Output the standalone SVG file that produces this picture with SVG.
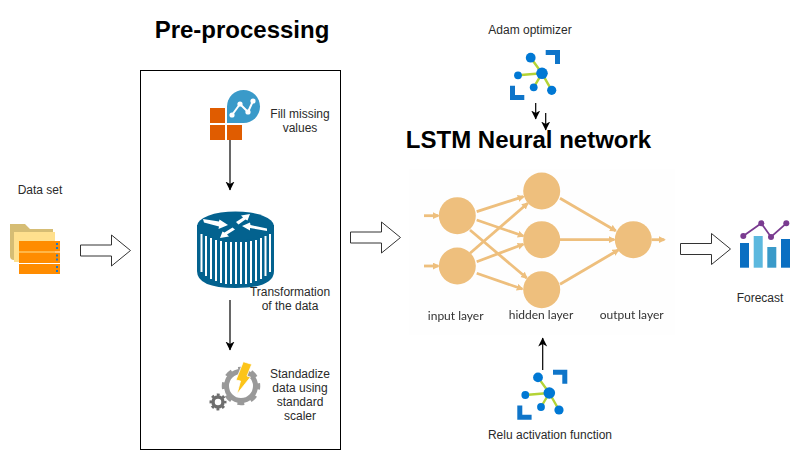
<svg xmlns="http://www.w3.org/2000/svg" width="791" height="452" viewBox="0 0 791 452">
<style>
text{font-family:"Liberation Sans",Arial,sans-serif;fill:#2a2a2a;text-anchor:middle}
.l{font-size:12px}
.t{font-size:24px;font-weight:bold;fill:#000}
.n{font-family:Lato,"Open Sans",sans-serif;font-size:12px;fill:#333}
.block{fill:#fff;stroke:#333;stroke-width:1}
.wire{fill:none;stroke:#000;stroke-width:1.2;marker-end:url(#ah)}
.nn{fill:#eebf7d}
.nl{fill:none;stroke:#eebf7d;stroke-width:2.8;marker-end:url(#oh)}
</style>
<defs>
<marker id="ah" markerUnits="userSpaceOnUse" markerWidth="10" markerHeight="10" refX="8.5" refY="4.500" orient="auto"><path d="M0 0L9 4.500L0 9L2.500 4.500Z" fill="#000"/></marker>
<marker id="oh" markerUnits="userSpaceOnUse" markerWidth="9" markerHeight="9" refX="5.500" refY="3.500" orient="auto"><path d="M0 0L7 3.500L0 7Z" fill="#eebf7d"/></marker>
<filter id="soft" x="-5%" y="-5%" width="110%" height="110%"><feGaussianBlur stdDeviation="0.4"/></filter>
<g id="net">
<path d="M542 73.300L530.700 57.700M542 73.300L518 75.300M542 73.300L533.700 87.300M542 73.300L551.700 90.300" stroke="#b4d335" stroke-width="2.400" fill="none"/>
<g fill="#0078d4"><circle cx="542" cy="73.300" r="5.800"/><circle cx="530.700" cy="57.700" r="4.900"/><circle cx="518" cy="75.300" r="3.900"/><circle cx="533.700" cy="87.300" r="3.900"/><circle cx="551.700" cy="90.300" r="4.600"/></g>
<path d="M545.700 50H560V64H555V55H545.700Z M510 85.700H515V95H524.300V100H510Z" fill="#0f75c9"/>
</g>
<path id="bk" d="M0 -5.500H31V-15.500L50 0L31 15.500V5.500H0Z"/>
</defs>

<g id="connectors">
<line class="wire" x1="230" y1="140" x2="230" y2="190"/>
<line class="wire" x1="230" y1="300" x2="230" y2="350"/>
<line class="wire" x1="535.700" y1="103" x2="535.700" y2="119"/>
<line class="wire" x1="545.700" y1="113" x2="545.700" y2="130"/>
<line class="wire" x1="542.700" y1="370" x2="542.700" y2="338"/>
<use href="#bk" class="block" transform="translate(80.500 250.500)"/>
<use href="#bk" class="block" transform="translate(350.500 237.500)"/>
<use href="#bk" class="block" transform="translate(680.500 249)"/>
</g>

<g id="dataset">
<path d="M10 224H25L30 229H53V260H14Q10 260 10 256Z" fill="#d6bd74"/>
<path d="M14 232H55V262H14Z" fill="#ffe08e"/>
<g fill="#ff8c00"><rect x="19" y="241" width="41" height="10.500"/><rect x="19" y="252.500" width="41" height="10.500"/><rect x="19" y="264" width="41" height="10"/></g>
<g fill="#1a78c8"><rect x="56" y="243" width="2" height="2"/><rect x="56" y="247" width="2" height="2"/><rect x="56" y="254.500" width="2" height="2"/><rect x="56" y="258.500" width="2" height="2"/><rect x="56" y="266" width="2" height="2"/><rect x="56" y="270" width="2" height="2"/></g>
<text class="l" x="40" y="194">Data set</text>
</g>

<g id="preprocessing">
<rect x="140.500" y="70.500" width="200" height="379" fill="none" stroke="#000" stroke-width="1"/>
<text class="t" x="242" y="38">Pre-processing</text>
</g>

<g id="fill-missing">
<g fill="#e05c00"><rect x="210" y="108" width="15" height="15"/><rect x="227" y="125" width="15" height="15"/><rect x="210" y="125" width="15" height="15"/></g>
<path d="M227 106.500A16.500 16.500 0 1 1 243.500 123H227Z" fill="#3a9ac9"/>
<path d="M232 115L240 104L248 112L253 101" fill="none" stroke="#fff" stroke-width="2"/>
<g fill="#fff"><circle cx="232" cy="115" r="2.600"/><circle cx="240" cy="104" r="2.600"/><circle cx="248" cy="112" r="2.600"/><circle cx="253" cy="101" r="2.600"/></g>
<text class="l" x="300" y="118">Fill missing</text>
<text class="l" x="300" y="132">values</text>
</g>

<g id="transformation">
<path d="M197 225V271Q197 288 235.500 288T274 271V225Z" fill="#03628f"/>
<path d="M201.500 234V272M206 236V276M211 238V279M216 240V281M221 241V283M226 242V284M231 242V284M236 242V284M241 242V284M246 242V284M251 241V283M256 240V281M261 238V279M265.500 236V276M270 234V272" stroke="#fff" stroke-width="2" fill="none"/>
<ellipse cx="235.500" cy="226" rx="38.500" ry="14.500" fill="#03628f"/>
<path d="M203 219L219 221.500L219.500 219.500L228 225L218.500 229L219 226.500L204 222.500Z M236 222L243 217.500L241 215.500L250 214L247.500 220.500L245.500 219.500L238.500 224.500Z M267 231L250 228L250 230.500L242 226L250 222.500L250.500 225L267 228.500Z M235 229.500L227 234.500L229 236.500L220 238L222.500 231.500L224.500 232.500L232.500 227.500Z" fill="#fff"/>
<text class="l" x="290" y="295.500">Transformation</text>
<text class="l" x="290" y="309.500">of the data</text>
</g>

<g id="standardize">
<circle cx="241" cy="386" r="14.500" fill="none" stroke="#999" stroke-width="5"/>
<circle cx="241" cy="386" r="17" fill="none" stroke="#999" stroke-width="4.500" stroke-dasharray="6.700 6.650" stroke-dashoffset="3.350"/>
<circle cx="218" cy="402" r="5" fill="none" stroke="#6e6e6e" stroke-width="3.500"/>
<circle cx="218" cy="402" r="7" fill="none" stroke="#6e6e6e" stroke-width="3" stroke-dasharray="2.750 2.750" stroke-dashoffset="1.375"/>
<path d="M243.300 361.700L251.700 364.300L247 376L250.500 377L237 394L240.500 381L236 380Z" fill="#fcc419" stroke="#fff" stroke-width="0.800"/>
<text class="l" x="300" y="378">Standadize</text>
<text class="l" x="300" y="392">data using</text>
<text class="l" x="300" y="406">standard</text>
<text class="l" x="300" y="420">scaler</text>
</g>

<g id="adam">
<use href="#net"/>
<text class="l" x="530" y="34">Adam optimizer</text>
</g>

<g id="lstm">
<rect x="409" y="169" width="266" height="166" fill="#fefefe"/>
<text class="t" x="528.500" y="148">LSTM Neural network</text>
<g filter="url(#soft)">
<path class="nl" d="M424 215.700H438.300"/>
<path class="nl" d="M424 266H438.300"/>
<path class="nl" d="M476.700 211.700L523.300 196.700"/>
<path class="nl" d="M476.700 220L523.300 236"/>
<path class="nl" d="M470 230L526.700 278"/>
<path class="nl" d="M470 253.300L527.700 203.300"/>
<path class="nl" d="M476.700 261.700L523.300 244.300"/>
<path class="nl" d="M476.700 273.300L522.300 289"/>
<path class="nl" d="M560 198.300L615.700 230.700"/>
<path class="nl" d="M560 239.700H614.300"/>
<path class="nl" d="M560 284.300L618.300 250"/>
<path class="nl" d="M651.700 239.700H664.300"/>
<g class="nn"><circle cx="457.300" cy="215.700" r="18.500"/><circle cx="457.300" cy="266" r="18.500"/><circle cx="541.700" cy="191" r="18.500"/><circle cx="541.700" cy="239.700" r="18.500"/><circle cx="541.700" cy="289.700" r="18.500"/><circle cx="633.300" cy="239.700" r="18.500"/></g>
<text class="n" x="455.700" y="319.500">input layer</text>
<text class="n" x="541" y="319">hidden layer</text>
<text class="n" x="631.700" y="319">output layer</text>
</g>
</g>

<g id="relu">
<use href="#net" transform="translate(7.300 319.700)"/>
<text class="l" x="550" y="439">Relu activation function</text>
</g>

<g id="forecast">
<rect x="740" y="243" width="9" height="24.700" fill="#0a6fc2"/>
<rect x="753.700" y="236" width="9" height="31.700" fill="#5cb8de"/>
<rect x="767.300" y="247" width="9" height="20.700" fill="#3a9ac9"/>
<rect x="781" y="239" width="9" height="28.700" fill="#0a6fc2"/>
<path d="M743.300 236L761.300 223.300L771 237L786.300 223.300" fill="none" stroke="#7a3b90" stroke-width="1.800"/>
<g fill="#7a3b90"><circle cx="743.300" cy="236" r="3"/><circle cx="761.300" cy="223.300" r="3"/><circle cx="771" cy="237" r="3"/><circle cx="786.300" cy="223.300" r="3"/></g>
<text class="l" x="760" y="302">Forecast</text>
</g>
</svg>
